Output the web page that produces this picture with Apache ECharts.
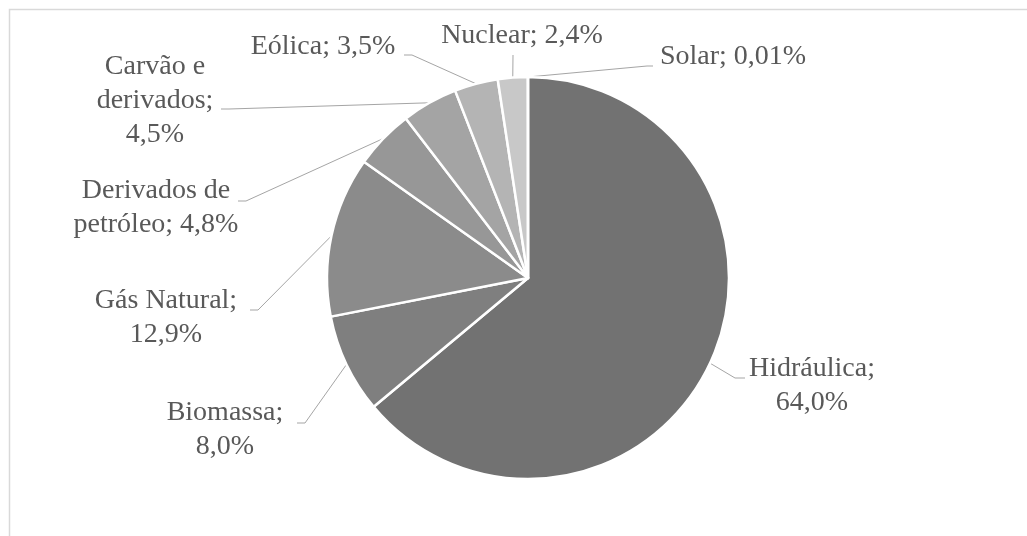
<!DOCTYPE html>
<html>
<head>
<meta charset="utf-8">
<script src="https://cdn.jsdelivr.net/npm/echarts@6/dist/echarts.min.js"></script>
<style>
  html, body { margin: 0; padding: 0; background: #ffffff; }
  #chart { width: 1027px; height: 536px; }
</style>
</head>
<body>
<div id="chart"></div>
<script>
// ---- data ----
const categories = ['Hidráulica', 'Biomassa', 'Gás Natural', 'Derivados de\npetróleo', 'Carvão e\nderivados', 'Eólica', 'Nuclear', 'Solar'];
const values = [64.0, 8.0, 12.9, 4.8, 4.5, 3.5, 2.4, 0.01];
const breakAfterName = [true, true, true, false, true, false, false, false];

// ---- styles / layout (not data) ----
const colors = ['#727272', '#7f7f7f', '#8b8b8b', '#979797', '#a4a4a4', '#b4b4b4', '#c8c8c8', '#d9d9d9'];
// label block centres and leader-line end points
const labelCenters = [[812, 386], [225, 430], [166, 318], [156, 208], [155, 101], [323, 47], [522, 36], [733, 57]];
const lineEnds = [[745, 378], [297, 423], [250, 310], [238, 201], [221, 109], [404, 55], [513, 55], [653, 66]];
const bendOffsets = [-10, 8, 8, 8, 8, 8, 0, -6];

function fmt(v) {
  const s = v < 0.1 ? v.toFixed(2) : v.toFixed(1);
  return s.replace('.', ',') + '%';
}

const chart = echarts.init(document.getElementById('chart'));
chart.setOption({
  animation: false,
  backgroundColor: '#ffffff',
  graphic: [{
    type: 'rect',
    shape: { x: 9.5, y: 9.5, width: 1100, height: 600 },
    style: { fill: 'none', stroke: '#d9d9d9', lineWidth: 1.5 },
    silent: true
  }],
  series: [{
    type: 'pie',
    center: [528, 278],
    radius: 201,
    startAngle: 90,
    clockwise: true,
    avoidLabelOverlap: false,
    itemStyle: { borderColor: '#ffffff', borderWidth: 2.5 },
    label: {
      show: true,
      position: 'outside',
      color: '#595959',
      fontFamily: '"Liberation Serif", "Times New Roman", serif',
      fontSize: 28,
      lineHeight: 34,
      align: 'center',
      formatter: function (p) {
        const i = p.dataIndex;
        return categories[i] + (breakAfterName[i] ? ';\n' : '; ') + fmt(values[i]);
      }
    },
    labelLine: {
      show: true,
      length: 10,
      length2: 10,
      lineStyle: { color: '#a5a5a5', width: 1 }
    },
    labelLayout: function (params) {
      const i = params.dataIndex;
      const p0 = params.labelLinePoints ? params.labelLinePoints[0] : lineEnds[i];
      const end = lineEnds[i];
      const bend = [end[0] + bendOffsets[i], end[1]];
      return {
        x: labelCenters[i][0],
        y: labelCenters[i][1],
        align: 'center',
        verticalAlign: 'middle',
        labelLinePoints: [p0, bend, end]
      };
    },
    data: categories.map(function (c, i) {
      return { name: c, value: values[i], itemStyle: { color: colors[i] } };
    })
  }]
});
</script>
</body>
</html>
